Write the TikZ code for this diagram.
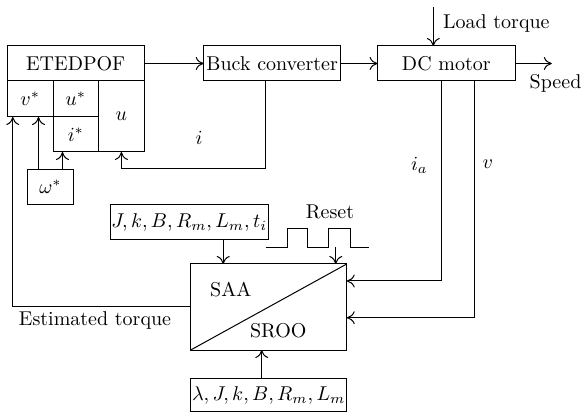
\documentclass[tikz,border=0pt]{standalone}
\usetikzlibrary{arrows.meta,positioning,calc}
\tikzset{
  blk/.style={draw,rectangle,line width=0.5pt,inner sep=0pt,outer sep=0pt,minimum height=17.5pt,align=center},
  cell/.style={blk,minimum width=22.8pt,minimum height=18pt},
  arr/.style={-{To[length=4pt,width=6.5pt]},line width=0.5pt},
  wire/.style={line width=0.5pt},
  lbl/.style={inner sep=0pt}
}

\begin{document}
\begin{tikzpicture}[x=0.5pt,y=-0.5pt]
  \useasboundingbox (0,0) rectangle (581,415);
  % controller
  \node[blk,minimum width=68.3pt] (etd) at (75.7,63.5) {ETEDPOF};
  \node[cell,anchor=north west] (vst) at (etd.south west) {$v^*$};
  \node[cell,anchor=north west] (ust) at (vst.north east) {$u^*$};
  \node[cell,anchor=north west,minimum height=17.5pt] (ist) at (ust.south west) {$i^*$};
  \node[cell,anchor=north west,minimum height=35.5pt] (uin) at (ust.north east) {$u$};
  \node[cell,minimum height=17.5pt] (wst) at (50.5,186.8) {$\omega^*$};
  % plant
  \node[blk,minimum width=68.5pt] (buck) at (272.2,63.5) {Buck converter};
  \node[blk,minimum width=68.7pt] (dcm) at (446.3,63.5) {DC motor};
  % observer
  \node[blk,minimum width=79.2pt] (par1) at (189.2,222.5) {$J, k, B, R_m, L_m, t_i$};
  \node[blk,minimum width=78pt,minimum height=43pt] (saa) at (268.7,307) {};
  \node[blk,minimum width=78pt,minimum height=16.7pt] (par2) at (268.7,395) {$\lambda, J, k, B, R_m, L_m$};
  \node[lbl] (saat) at (230.7,289.3) {SAA};
  \node[lbl] (root) at (278.3,331) {SROO};

  % labels
  \node[lbl,anchor=west] (ltql) at (442.7,23.3) {Load torque};
  \node[lbl,anchor=west] (spdl) at (529.3,83.3) {Speed};
  \node[lbl] (il) at (199,138.3) {$i$};
  \node[lbl] (ial) at (419.3,165.7) {$i_a$};
  \node[lbl] (vl) at (487.7,164) {$v$};
  \node[lbl] (rstl) at (330,212.3) {Reset};
  \node[lbl] (estl) at (95,320.7) {Estimated torque};

  \coordinate (ltq) at (433.3,6.7);
  \coordinate[right=18.4pt of dcm.east] (spd);
  \coordinate (rst) at (335.7,247.3);

  % reset pulses
  \draw[wire] (265.7,247.3) -- (287.3,247.3) -- (287.3,228.3) -- (307.3,228.3) -- (307.3,247.3)
    -- (328.7,247.3) -- (328.7,228.3) -- (350,228.3) -- (350,247.3) -- (369.3,247.3);

  \draw[arr] (etd.east) -- (buck.west);
  \draw[arr] (buck.east) -- (dcm.west);
  \draw[arr] (ltq) -- (ltq |- dcm.north);
  \draw[arr] (dcm.east) -- (spd);
  \draw[arr] ([xshift=-3.25pt]buck.south) -- ++(0,88) -| (uin.south);
  \draw[arr] ([xshift=-6pt]wst.north) -- ([xshift=-6pt]wst.north |- vst.south);
  \draw[arr] ([xshift=6pt]wst.north) -- ([xshift=6pt]wst.north |- ist.south);
  \draw[arr] (saa.west) -| ([xshift=2.7pt]vst.south west);
  \draw[arr] ([xshift=17pt]par1.south) -- ([xshift=17pt]par1.south |- saa.north);
  \draw[arr] (rst) -- (rst |- saa.north);
  \draw[arr] ([xshift=-2.3pt]dcm.south) |- ([yshift=13pt]saa.east);
  \draw[arr] ([xshift=13.85pt]dcm.south) |- ([yshift=-5.35pt]saa.east);
  \draw[arr] ([xshift=-3.5pt]par2.north) -- ([xshift=-3.5pt]par2.north |- saa.south);
  \draw[wire] (saa.south west) -- (saa.north east);
\end{tikzpicture}
\end{document}
